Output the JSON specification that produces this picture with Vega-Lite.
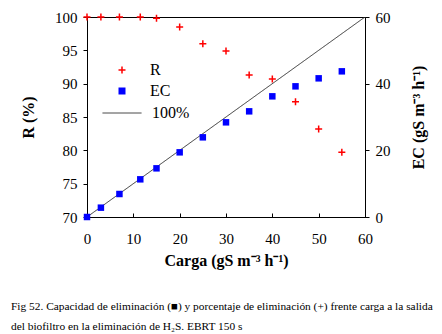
{
  "$schema": "https://vega.github.io/schema/vega-lite/v6.json",
  "width": 278,
  "height": 200,
  "autosize": {"type": "none"},
  "padding": {"left": 87, "top": 17, "right": 77, "bottom": 117},
  "background": "white",
  "config": {
    "view": {"stroke": "#000", "strokeWidth": 1},
    "axis": {
      "grid": false,
      "domainColor": "#000",
      "tickColor": "#000",
      "labelColor": "#000",
      "titleColor": "#000",
      "labelFont": "Liberation Serif",
      "titleFont": "Liberation Serif",
      "labelFontSize": 15,
      "titleFontSize": 16,
      "titleFontWeight": "bold"
    },
    "legend": {
      "labelFont": "Liberation Serif",
      "labelFontSize": 16,
      "labelColor": "#000",
      "padding": 0
    },
    "style": {
      "guide-label": {"font": "Liberation Serif"},
      "guide-title": {"font": "Liberation Serif"},
      "group-title": {"font": "Liberation Serif"}
    }
  },
  "title": {
    "text": ["Fig 52. Capacidad de eliminación (■) y porcentaje de eliminación (+) frente carga a la salida", "del biofiltro en la eliminación de H₂S. EBRT 150 s"],
    "orient": "bottom",
    "anchor": "start",
    "frame": "group",
    "font": "Liberation Serif",
    "fontSize": 11.4,
    "fontWeight": "normal",
    "color": "#000",
    "lineHeight": 20,
    "dx": -76,
    "offset": 33
  },
  "data": {
    "values": [
      {"carga": 0, "serie": "R", "valor": 100},
      {"carga": 3, "serie": "R", "valor": 100},
      {"carga": 7, "serie": "R", "valor": 100},
      {"carga": 11.5, "serie": "R", "valor": 100},
      {"carga": 15, "serie": "R", "valor": 99.8},
      {"carga": 20, "serie": "R", "valor": 98.5},
      {"carga": 25, "serie": "R", "valor": 96.0},
      {"carga": 30, "serie": "R", "valor": 94.9},
      {"carga": 35, "serie": "R", "valor": 91.3},
      {"carga": 40, "serie": "R", "valor": 90.7},
      {"carga": 45, "serie": "R", "valor": 87.3},
      {"carga": 50, "serie": "R", "valor": 83.2},
      {"carga": 55, "serie": "R", "valor": 79.7},
      {"carga": 0, "serie": "EC", "valor": 0},
      {"carga": 3, "serie": "EC", "valor": 2.8},
      {"carga": 7, "serie": "EC", "valor": 6.9},
      {"carga": 11.5, "serie": "EC", "valor": 11.3},
      {"carga": 15, "serie": "EC", "valor": 14.6},
      {"carga": 20, "serie": "EC", "valor": 19.4},
      {"carga": 25, "serie": "EC", "valor": 23.9},
      {"carga": 30, "serie": "EC", "valor": 28.4},
      {"carga": 35, "serie": "EC", "valor": 31.7},
      {"carga": 40, "serie": "EC", "valor": 36.2},
      {"carga": 45, "serie": "EC", "valor": 39.2},
      {"carga": 50, "serie": "EC", "valor": 41.6},
      {"carga": 55, "serie": "EC", "valor": 43.7},
      {"carga": 0, "serie": "100%", "valor": 0},
      {"carga": 60, "serie": "100%", "valor": 60}
    ]
  },
  "encoding": {
    "x": {
      "field": "carga",
      "type": "quantitative",
      "scale": {"domain": [0, 60], "nice": false, "zero": false},
      "axis": {
        "values": [0, 10, 20, 30, 40, 50, 60],
        "title": "Carga (gS m⁻³ h⁻¹)",
        "labelFont": "Liberation Serif",
        "titleFont": "Liberation Serif",
        "tickSize": -4,
        "labelPadding": 18,
        "titleBaseline": "middle",
        "titleY": 43,
        "labelFlush": false
      }
    }
  },
  "layer": [
    {
      "transform": [{"filter": "datum.serie === 'R'"}],
      "mark": {"type": "point", "filled": true, "strokeWidth": 1.5, "size": 49, "opacity": 1, "clip": false},
      "encoding": {
        "y": {
          "field": "valor",
          "type": "quantitative",
          "scale": {"domain": [70, 100], "nice": false, "zero": false},
          "axis": {
            "orient": "left",
            "values": [70, 75, 80, 85, 90, 95, 100],
            "title": "R (%)",
            "labelFont": "Liberation Serif",
            "titleFont": "Liberation Serif",
            "tickSize": 4,
            "labelPadding": 6,
            "titleAngle": 270,
            "titleBaseline": "middle",
            "titleX": -59,
            "titleY": 100,
            "labelFlush": false
          }
        },
        "color": {
          "field": "serie",
          "type": "nominal",
          "scale": {"domain": ["R", "EC"], "range": ["#ff0000", "#0000ff"]},
          "legend": {
            "orient": "none",
            "legendX": 27,
            "legendY": 45,
            "title": null,
            "symbolSize": 49,
            "symbolStrokeWidth": 1.5,
            "labelOffset": 20,
            "rowPadding": 5
          }
        },
        "stroke": {
          "field": "serie",
          "type": "nominal",
          "scale": {"domain": ["R", "EC"], "range": ["#ff0000", "transparent"]}
        },
        "shape": {
          "field": "serie",
          "type": "nominal",
          "scale": {"domain": ["R", "EC"], "range": ["M-1,0H1M0,-1V1", "square"]}
        }
      }
    },
    {
      "layer": [
        {
          "transform": [{"filter": "datum.serie === '100%'"}],
          "mark": {"type": "line", "strokeWidth": 1, "clip": true, "color": "#333333"},
          "encoding": {
            "y": {
              "field": "valor",
              "type": "quantitative",
              "scale": {"domain": [0, 60], "nice": false},
              "axis": {
                "orient": "right",
                "values": [0, 10, 20, 30, 40, 50, 60],
                "title": "EC (gS m⁻³ h⁻¹)",
                "labelFont": "Liberation Serif",
                "titleFont": "Liberation Serif",
                "titleAngle": 270,
                "titleBaseline": "middle",
                "titleX": 53,
                "titleY": 100,
                "tickSize": 4,
                "labelPadding": 6,
                "labelFlush": false
              }
            },
            "strokeDash": {
              "field": "serie",
              "type": "nominal",
              "scale": {"domain": ["100%"], "range": [[1, 0]]},
              "legend": {
                "orient": "none",
                "legendX": 15,
                "legendY": 76,
                "title": null,
                "symbolType": "stroke",
                "symbolSize": 1521,
                "symbolStrokeColor": "#333333",
                "symbolStrokeWidth": 1,
                "labelOffset": 10
              }
            }
          }
        },
        {
          "transform": [{"filter": "datum.serie === 'EC'"}],
          "mark": {"type": "point", "shape": "square", "filled": true, "size": 42, "opacity": 1, "clip": false, "color": "#0000ff"},
          "encoding": {
            "y": {"field": "valor", "type": "quantitative"}
          }
        }
      ]
    }
  ],
  "resolve": {"scale": {"y": "independent"}, "axis": {"y": "independent"}}
}
